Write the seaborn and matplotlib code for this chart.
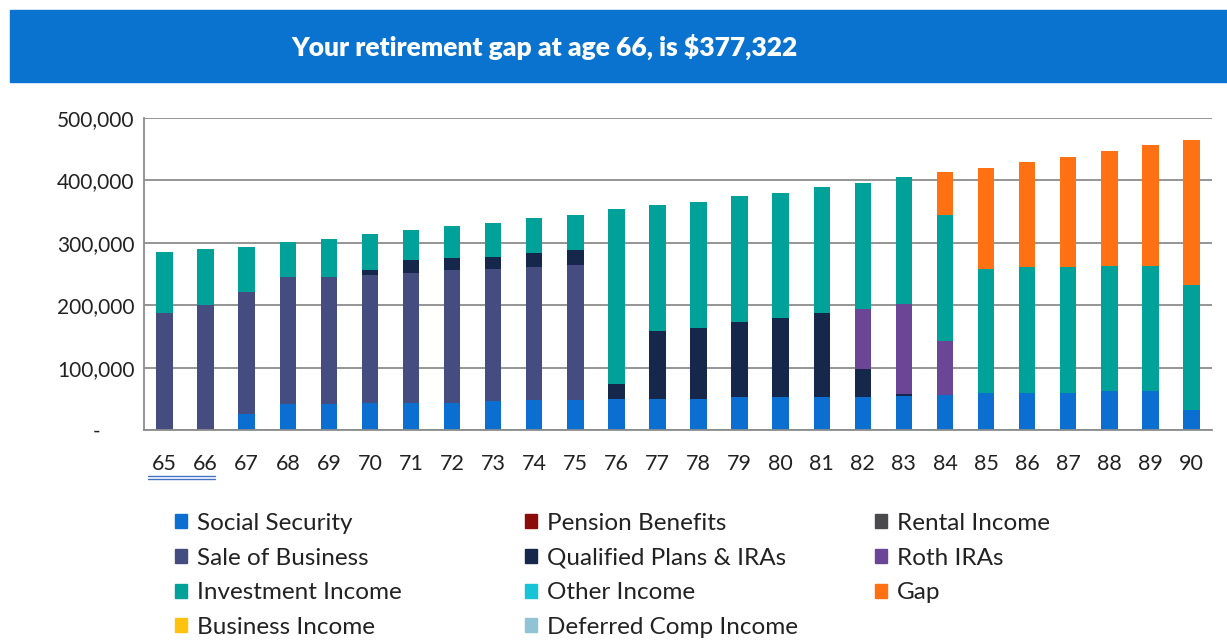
import numpy as np
import matplotlib
matplotlib.use("Agg")
import matplotlib.pyplot as plt
from matplotlib.patches import Patch, Rectangle
from matplotlib.lines import Line2D
from matplotlib.ticker import FuncFormatter, FixedLocator
from matplotlib.transforms import ScaledTranslation
import seaborn as sns

# ages on the x axis
ages = [str(a) for a in range(65, 91)]

# income sources, in dollars
social_security = [0, 0, 25000, 42000, 41000, 44000, 44000, 44000, 46000, 48000, 48000, 50000, 50000,
                   50000, 53000, 53000, 53000, 53000, 54500, 56000, 59400, 59400, 59400, 62600, 62600, 32000]
pension_benefits = [0] * 26
rental_income = [0] * 26
sale_of_business = [188000, 200500, 196000, 203000, 204000, 205000, 207000, 212000, 212000, 213000, 216000,
                    0, 0, 0, 0, 0, 0, 0, 0, 0, 0, 0, 0, 0, 0, 0]
qualified_plans = [0, 0, 0, 0, 0, 8000, 21000, 20000, 20000, 23000, 24000, 23500, 108000, 114000, 120000,
                   126000, 135000, 45000, 2500, 0, 0, 0, 0, 0, 0, 0]
roth_iras = [0] * 17 + [96000, 145700, 87000] + [0] * 6
investment_income = [96500, 89500, 72600, 57000, 61000, 57000, 48000, 51000, 54000, 55000, 57000, 280000,
                     202000, 201600, 201600, 201600, 201600, 202000, 202000, 201000, 198400, 201600, 201600,
                     201000, 201000, 200600]
other_income = [0] * 26
gap = [0] * 19 + [70000, 162000, 168000, 177000, 183400, 192500, 232700]
business_income = [0] * 26
deferred_comp = [0] * 26

# stacking order, bottom to top
layers = [
    ("Social Security", social_security, "#0A6FD0"),
    ("Pension Benefits", pension_benefits, "#8B0A0A"),
    ("Rental Income", rental_income, "#4A4A4C"),
    ("Sale of Business", sale_of_business, "#454C80"),
    ("Qualified Plans & IRAs", qualified_plans, "#15284B"),
    ("Roth IRAs", roth_iras, "#6B4596"),
    ("Investment Income", investment_income, "#00A199"),
    ("Other Income", other_income, "#17C3D6"),
    ("Gap", gap, "#FF7112"),
    ("Business Income", business_income, "#FFC20E"),
    ("Deferred Comp Income", deferred_comp, "#92C2D6"),
]

sns.set_style("white")
plt.rcParams["font.family"] = ["Lato", "DejaVu Sans"]

fig = plt.figure(figsize=(12.27, 6.43), dpi=100)
ax = fig.add_axes([144 / 1227, 1 - 430 / 643, (1212 - 144) / 1227, (430 - 118) / 643])

# stacked bars: draw cumulative totals from the top layer down
cum = np.cumsum(np.array([l[1] for l in layers], dtype=float), axis=0)
for i in range(len(layers) - 1, -1, -1):
    sns.barplot(x=ages, y=cum[i], color=layers[i][2], width=0.4, saturation=1,
                errorbar=None, linewidth=0, ax=ax)

ax.set_xlim(-0.5, 25.5)
ax.set_ylim(0, 500000)
ax.set_xlabel("")
ax.set_ylabel("")

grid_c = "#8C8C8C"
ax.set_yticks(range(0, 500001, 100000))
ax.yaxis.set_major_formatter(FuncFormatter(lambda v, p: "-" if v == 0 else f"{v:,.0f}"))
ax.yaxis.grid(True, color=grid_c, linewidth=1.3)
ax.set_axisbelow(True)
ax.tick_params(axis="y", length=5.5, width=1.3, color=grid_c, labelsize=15, pad=1.5, labelcolor="#222222")
ax.tick_params(axis="x", which="major", length=0, labelsize=15.5, pad=17, labelcolor="#222222")
ax.xaxis.set_minor_locator(FixedLocator(np.arange(-0.5, 26, 1)))
ax.tick_params(axis="x", which="minor", length=4.5, width=1.3, color=grid_c, direction="out")
for s in ["top", "right"]:
    ax.spines[s].set_visible(False)
for s in ["left", "bottom"]:
    ax.spines[s].set_color(grid_c)
    ax.spines[s].set_linewidth(1.3)

# move the "-" zero label left like the accounting format
lab0 = ax.yaxis.get_major_ticks()[0].label1
lab0.set_transform(lab0.get_transform() + ScaledTranslation(-34 / 100, 0, fig.dpi_scale_trans))

# title banner
fig.add_artist(Rectangle((10 / 1227, 1 - 82 / 643), 1 - 10 / 1227, 72 / 643,
                         transform=fig.transFigure, color="#0A73CF", zorder=0))
fig.text(544 / 1227, 1 - 47 / 643, "Your retirement gap at age 66, is $377,322",
         color="white", fontsize=19, fontweight="heavy", ha="center", va="center")

# double underline under 65 66
for yy in (476, 479):
    fig.add_artist(Line2D([148 / 1227, 215 / 1227], [1 - yy / 643, 1 - yy / 643],
                          transform=fig.transFigure, color="#4472C4", linewidth=1))

# legend in three columns
handles = {name: Patch(color=c) for name, _, c in layers}
cols = [
    (175, ["Social Security", "Sale of Business", "Investment Income", "Business Income"]),
    (525, ["Pension Benefits", "Qualified Plans & IRAs", "Other Income", "Deferred Comp Income"]),
    (875, ["Rental Income", "Roth IRAs", "Gap"]),
]
for x0, names in cols:
    fig.legend([handles[n] for n in names], names, loc="upper left",
               bbox_to_anchor=(x0 / 1227, 1 - 513 / 643), frameon=False, fontsize=17.5,
               handlelength=0.5, handleheight=0.5, handletextpad=0.42, labelspacing=0.56,
               borderpad=0, borderaxespad=0, labelcolor="#222222")

fig.savefig("out.png", dpi=100)
